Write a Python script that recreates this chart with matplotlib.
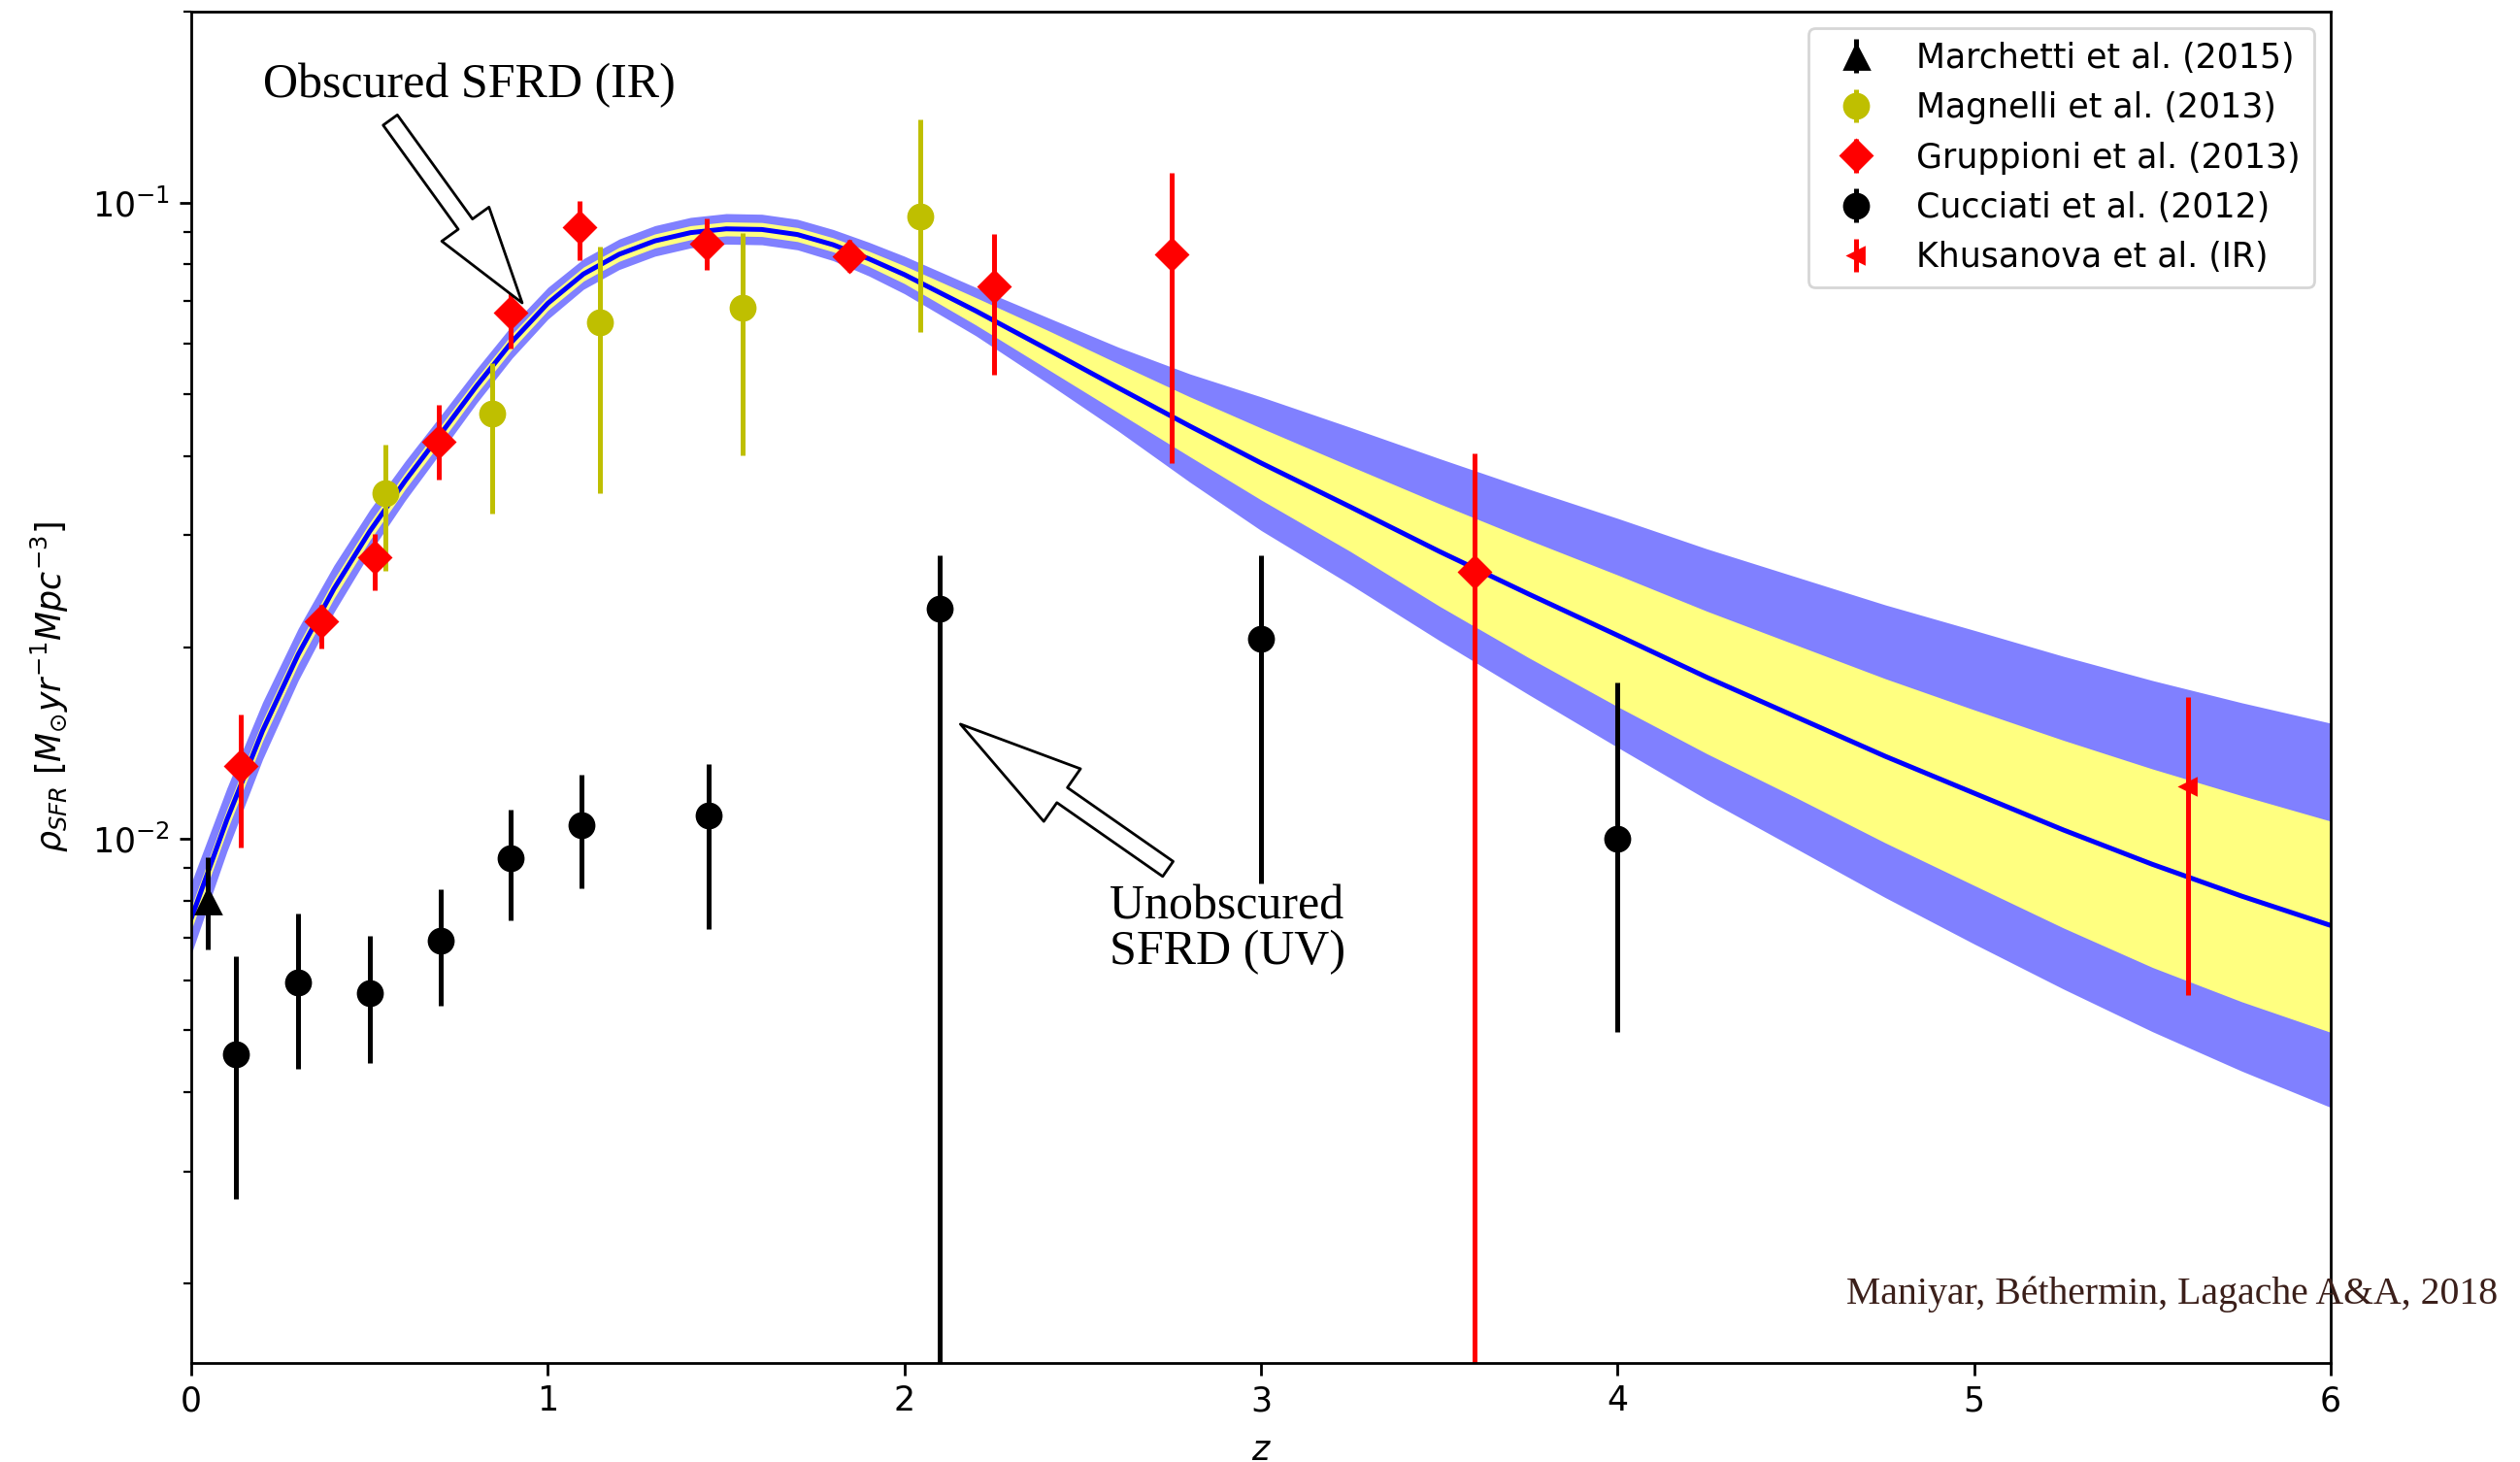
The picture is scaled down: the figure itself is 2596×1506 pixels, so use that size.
import matplotlib
matplotlib.use('Agg')
import matplotlib.pyplot as plt
import numpy as np

# model curve
z_model = [0.0, 0.1, 0.2, 0.3, 0.4, 0.5, 0.6, 0.7, 0.8, 0.9, 1.0, 1.1, 1.2, 1.3, 1.4,
           1.5, 1.6, 1.7, 1.8, 1.9, 2.0, 2.2, 2.4, 2.6, 2.8, 3.0, 3.25, 3.5, 3.75,
           4.0, 4.25, 4.5, 4.75, 5.0, 5.25, 5.5, 5.75, 6.0]
sfrd_model = [0.00750, 0.01072, 0.01479, 0.01950, 0.02472, 0.03041, 0.03656, 0.04335,
              0.05152, 0.06053, 0.06950, 0.07727, 0.08299, 0.08710, 0.08974, 0.09099,
              0.09078, 0.08913, 0.08590, 0.08166, 0.07709, 0.06761, 0.05888, 0.05117,
              0.04457, 0.03899, 0.03327, 0.02831, 0.02427, 0.02089, 0.01795, 0.01556,
              0.01349, 0.01180, 0.01033, 0.00912, 0.00813, 0.00731]
# band half widths in dex (above / below the curve)
inner_up = [0.018, 0.017, 0.016, 0.015, 0.015, 0.014, 0.013, 0.013, 0.012, 0.012, 0.011,
            0.011, 0.011, 0.011, 0.011, 0.011, 0.011, 0.011, 0.011, 0.012, 0.014, 0.021,
            0.030, 0.038, 0.046, 0.055, 0.064, 0.075, 0.085, 0.095, 0.104, 0.113, 0.122,
            0.131, 0.141, 0.150, 0.158, 0.164]
inner_dn = [0.018, 0.017, 0.016, 0.015, 0.015, 0.014, 0.013, 0.013, 0.012, 0.012, 0.011,
            0.011, 0.011, 0.011, 0.011, 0.011, 0.011, 0.011, 0.011, 0.012, 0.014, 0.022,
            0.031, 0.039, 0.048, 0.058, 0.070, 0.086, 0.100, 0.112, 0.120, 0.127, 0.136,
            0.145, 0.154, 0.162, 0.166, 0.168]
outer_up = [0.056, 0.050, 0.045, 0.041, 0.037, 0.034, 0.031, 0.029, 0.027, 0.026, 0.025,
            0.024, 0.024, 0.024, 0.024, 0.024, 0.024, 0.024, 0.024, 0.026, 0.029, 0.037,
            0.050, 0.064, 0.082, 0.104, 0.125, 0.146, 0.165, 0.184, 0.202, 0.220, 0.238,
            0.256, 0.273, 0.289, 0.304, 0.318]
outer_dn = [0.056, 0.050, 0.045, 0.041, 0.037, 0.034, 0.031, 0.029, 0.027, 0.026, 0.025,
            0.024, 0.024, 0.024, 0.024, 0.024, 0.024, 0.024, 0.025, 0.027, 0.030, 0.039,
            0.053, 0.068, 0.088, 0.106, 0.122, 0.140, 0.158, 0.176, 0.192, 0.207, 0.222,
            0.237, 0.250, 0.263, 0.275, 0.286]

# data points: z, value, lower end, upper end
march_z = [0.045]
march_v = [0.0080]
march_lo = [0.00671]
march_hi = [0.00935]

magn_z = [0.545, 0.845, 1.145, 1.545, 2.045]
magn_v = [0.0350, 0.0467, 0.0649, 0.0685, 0.0950]
magn_lo = [0.0264, 0.0325, 0.0350, 0.0401, 0.0626]
magn_hi = [0.0417, 0.0560, 0.0854, 0.0897, 0.1353]

grup_z = [0.14, 0.365, 0.515, 0.695, 0.895, 1.09, 1.445, 1.845, 2.25, 2.75, 3.6]
grup_v = [0.0130, 0.0220, 0.0277, 0.0421, 0.0672, 0.0917, 0.0862, 0.0825, 0.0740, 0.0830, 0.0263]
grup_lo = [0.0097, 0.0199, 0.0246, 0.0367, 0.0589, 0.0813, 0.0783, 0.0779, 0.0537, 0.0390, 1e-4]
grup_hi = [0.0157, 0.0233, 0.0302, 0.0482, 0.0753, 0.1005, 0.0944, 0.0875, 0.0894, 0.1116, 0.0404]

cucc_z = [0.125, 0.3, 0.5, 0.7, 0.895, 1.095, 1.45, 2.1, 3.0, 4.0]
cucc_v = [0.00459, 0.00594, 0.00573, 0.00691, 0.00933, 0.0105, 0.0109, 0.0230, 0.0206, 0.0100]
cucc_lo = [0.00272, 0.00435, 0.00445, 0.00546, 0.00744, 0.00836, 0.00722, 1e-4, 0.0085, 0.00497]
cucc_hi = [0.00653, 0.00763, 0.00705, 0.00832, 0.0111, 0.01263, 0.01312, 0.0279, 0.0279, 0.0176]

khus_z = [5.6]
khus_v = [0.0121]
khus_lo = [0.00568]
khus_hi = [0.01673]


def err(v, lo, hi):
    v = np.array(v)
    return [v - np.array(lo), np.array(hi) - v]


model = np.array(sfrd_model)

fig = plt.figure(figsize=(12.98, 7.53), dpi=200)
ax = fig.add_axes([0.0759, 0.0677, 0.849, 0.9246])

ax.fill_between(z_model, model / 10 ** np.array(outer_dn), model * 10 ** np.array(outer_up),
                color='#8080ff', lw=0)
ax.fill_between(z_model, model / 10 ** np.array(inner_dn), model * 10 ** np.array(inner_up),
                color='#ffff80', lw=0)
ax.plot(z_model, sfrd_model, color='#0000ff', lw=1.8)

ax.errorbar(march_z, march_v, yerr=err(march_v, march_lo, march_hi), fmt='k^', ms=9,
            elinewidth=1.8, label='Marchetti et al. (2015)')
ax.errorbar(magn_z, magn_v, yerr=err(magn_v, magn_lo, magn_hi), fmt='o', color='y', ms=9,
            elinewidth=1.8, label='Magnelli et al. (2013)')
ax.errorbar(grup_z, grup_v, yerr=err(grup_v, grup_lo, grup_hi), fmt='rD', ms=8,
            elinewidth=1.8, label='Gruppioni et al. (2013)')
ax.errorbar(cucc_z, cucc_v, yerr=err(cucc_v, cucc_lo, cucc_hi), fmt='ko', ms=9,
            elinewidth=1.8, label='Cucciati et al. (2012)')
ax.errorbar(khus_z, khus_v, yerr=err(khus_v, khus_lo, khus_hi), fmt='r<', ms=6,
            elinewidth=1.8, label='Khusanova et al. (IR)')

ax.set_yscale('log')
ax.set_xlim(0, 6)
ax.set_ylim(0.0015, 0.2)
ax.set_xticks(range(7))
ax.tick_params(labelsize=12.5, length=4.5, width=1.0)
ax.tick_params(which='minor', length=2.8, width=0.8)
for s in ax.spines.values():
    s.set_linewidth(1.0)
ax.set_xlabel('$z$', fontsize=12.5, labelpad=6)
ax.set_ylabel(r'$\rho_{SFR}$ $[M_{\odot} yr^{-1} Mpc^{-3}]$', fontsize=12.5, labelpad=8)

ax.legend(loc='upper right', fontsize=12.5, borderaxespad=0.5)

# annotations
serif = ['Liberation Serif', 'DejaVu Serif']
ax.text(0.2, 0.1464, 'Obscured SFRD (IR)', ha='left', va='baseline',
        fontsize=18, family=serif)
ax.annotate('', xy=(0.928, 0.0696), xytext=(0.558, 0.1349),
            arrowprops=dict(arrowstyle='simple,head_length=36,head_width=21.6,tail_width=6.5',
                            mutation_scale=1, fc='white', ec='black', lw=1.0,
                            shrinkA=0, shrinkB=0))
ax.text(2.576, 0.00636, 'Unobscured\nSFRD (UV)', ha='left', va='baseline',
        fontsize=18, family=serif, linespacing=1.0)
ax.annotate('', xy=(2.157, 0.01515), xytext=(2.739, 0.00897),
            arrowprops=dict(arrowstyle='simple,head_length=46,head_width=23.8,tail_width=6.8',
                            mutation_scale=1, fc='white', ec='black', lw=1.0,
                            shrinkA=0, shrinkB=0))
fig.text(1901.5 / 2596, 1 - 1343 / 1506, 'Maniyar, Béthermin, Lagache A&A, 2018',
         ha='left', va='baseline', fontsize=14.3, family=serif, color='#3b1f1a')

fig.savefig('out.png', dpi=200)
